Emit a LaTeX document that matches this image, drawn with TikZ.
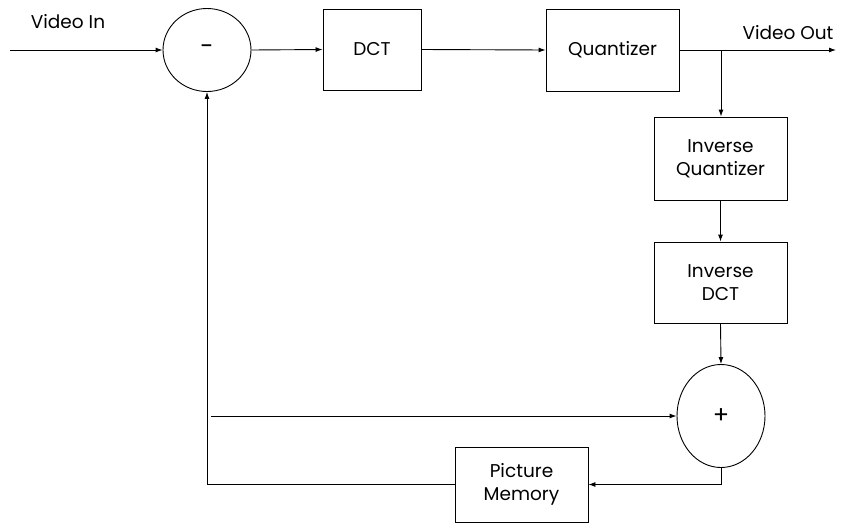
\documentclass[tikz,border=0pt]{standalone}
\usepackage{fontspec}
\setmainfont{Poppins}
\usetikzlibrary{arrows.meta,shapes.geometric}
\begin{document}
\begin{tikzpicture}[x=1pt,y=-1pt,
  every node/.style={font=\fontsize{18.5}{23}\selectfont},
  blk/.style={draw,line width=0.9pt,rectangle,inner sep=0pt,align=center},
  sumnode/.style={draw,line width=0.9pt,ellipse,inner sep=0pt,font=\fontsize{24}{26}\selectfont},
  conn/.style={line width=0.9pt,-{Latex[length=7pt,width=5pt]}}]
\useasboundingbox (0,0) rectangle (841,528);
\node[sumnode,minimum width=88pt,minimum height=83pt] (minus) at (207,50) {-};
\node[blk,minimum width=98pt,minimum height=81pt] (dct) at (372,49.5) {DCT};
\node[blk,minimum width=133pt,minimum height=82pt] (quant) at (612.5,50) {Quantizer};
\node[blk,minimum width=133pt,minimum height=83pt] (iq) at (720.5,158.5) {Inverse\\Quantizer};
\node[blk,minimum width=133pt,minimum height=81pt] (idct) at (720.5,282.5) {Inverse\\DCT};
\node[sumnode,minimum width=88pt,minimum height=103pt] (plus) at (721,416) {+};
\node[blk,minimum width=133pt,minimum height=75pt] (pm) at (521.5,484.5) {Picture\\Memory};
\node (lin) at (68,22) {Video In};
\node (lout) at (788,33) {Video Out};
\coordinate (in) at (10,50);
\coordinate (out) at (836,50);
\coordinate (br) at (721,50);
\coordinate (fb) at (211,416);
\draw[conn] (in) -- (minus.west);
\draw[conn] (minus.east) -- (dct.west);
\draw[conn] (dct.east) -- (quant.west);
\draw[conn] (quant.east) -- (out);
\draw[conn] (br) -- (br |- iq.north);
\draw[conn] (iq.south) -- (idct.north);
\draw[conn] (idct.south) -- (plus.north);
\draw[conn] (fb) -- (plus.west);
\draw[conn] (plus.south) |- (pm.east);
\draw[conn] (pm.west) -| (minus.south);
\end{tikzpicture}
\end{document}
